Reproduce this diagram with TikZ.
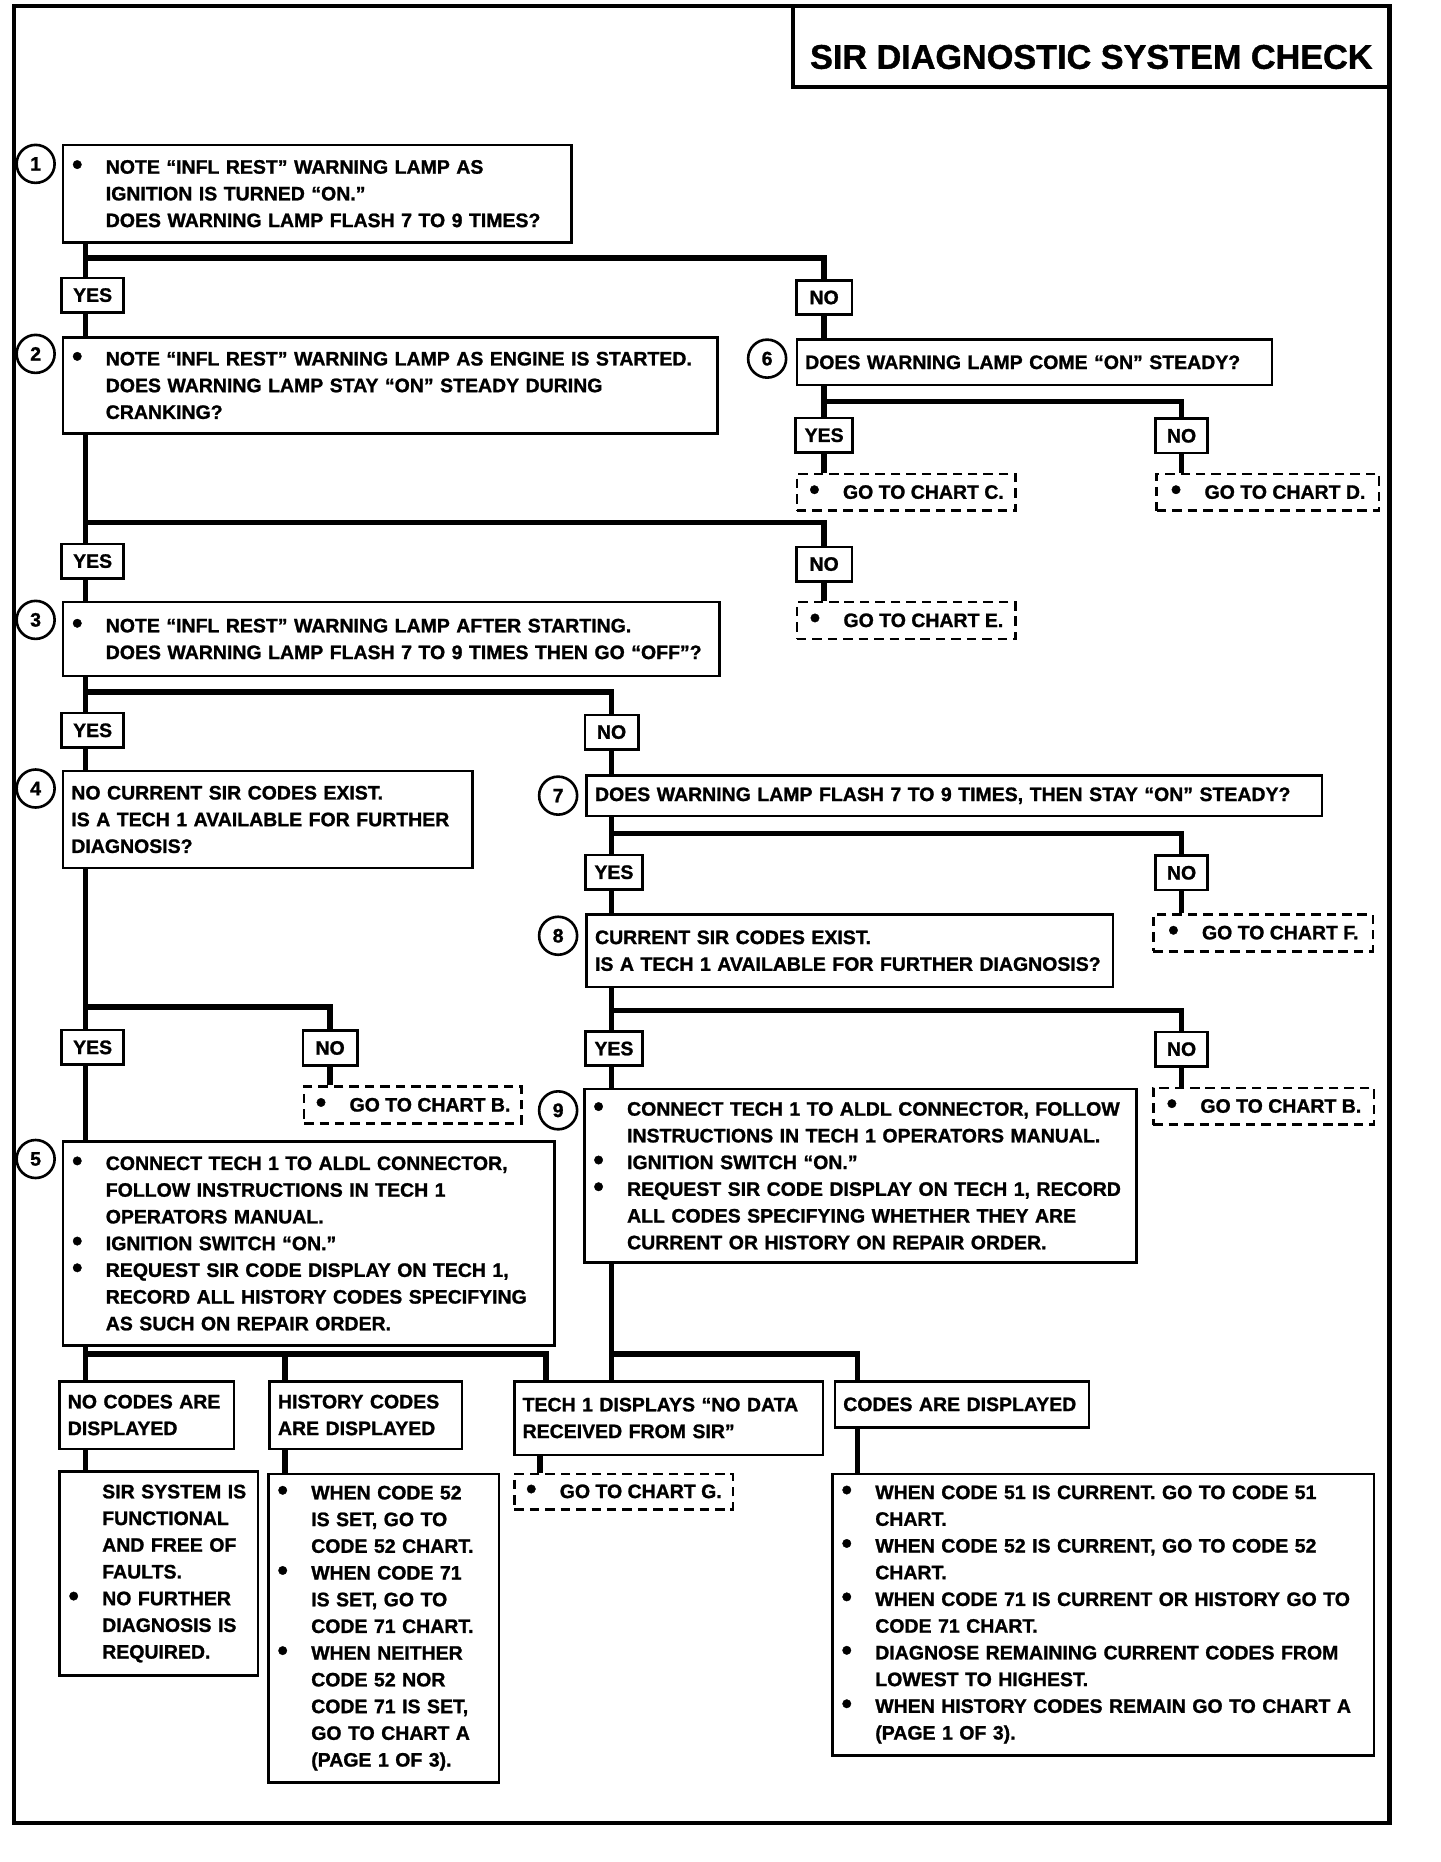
\documentclass[tikz,border=0pt]{standalone}
\usepackage{fontspec}
\setmainfont{Liberation Sans}[BoldFeatures={FakeBold=1.2}]
\usetikzlibrary{backgrounds}

\newcommand{\chartfont}{\fontsize{8.2}{11.25}\selectfont\bfseries}
\newcommand{\bul}{\makebox[14.5pt][l]{\hspace{0.3pt}\raisebox{-0.3pt}{\fontsize{12.5}{10}\selectfont\textbullet}}}
\newcommand{\ind}{\hspace*{14.5pt}}

\begin{document}
\begin{tikzpicture}[x=0.5pt,y=-0.5pt,font=\chartfont,
  stepbox/.style={draw,line width=1.1pt,fill=white,anchor=north west,align=left,inner xsep=3.5pt,inner ysep=1pt},
  ansbox/.style={draw,line width=1.1pt,fill=white,inner sep=0pt,minimum height=14.5pt},
  gotobox/.style={draw,dash pattern=on 4pt off 2.5pt,line width=1.1pt,fill=white,anchor=north west,inner sep=0pt,minimum height=15.5pt,minimum width=92pt},
  numcirc/.style={draw,circle,line width=1.1pt,fill=white,minimum size=16pt,inner sep=0pt},
  link/.style={line width=2.4pt}]
\useasboundingbox (0,0) rectangle (1213,1568);

% frame and title
\draw[line width=1.8pt] (12,5) rectangle (1170,1535);
\draw[line width=1.8pt] (668,5) -- (668,73) -- (1170,73);
\node[font=\fontsize{14.4}{16}\selectfont\bfseries] (title) at (919,48) {SIR DIAGNOSTIC SYSTEM CHECK};

% numbered steps
\node[numcirc] (c1) at (30,138) {1};
\node[numcirc] (c2) at (30,298) {2};
\node[numcirc] (c3) at (30,522) {3};
\node[numcirc] (c4) at (30,664) {4};
\node[numcirc] (c5) at (30,976) {5};
\node[numcirc] (c6) at (646,302) {6};
\node[numcirc] (c7) at (470,670) {7};
\node[numcirc] (c8) at (470,788) {8};
\node[numcirc] (c9) at (470,935) {9};

\node[stepbox,text width=207pt,minimum height=41pt] (b1) at (52,121)
  {\bul NOTE ``INFL REST'' WARNING LAMP AS\\ \ind IGNITION IS TURNED ``ON.''\\ \ind DOES WARNING LAMP FLASH 7 TO 9 TIMES?};
\node[stepbox,text width=268.5pt,minimum height=40.5pt] (b2) at (52,283)
  {\bul NOTE ``INFL REST'' WARNING LAMP AS ENGINE IS STARTED.\\ \ind DOES WARNING LAMP STAY ``ON'' STEADY DURING\\ \ind CRANKING?};
\node[stepbox,text width=269.5pt,minimum height=31pt] (b3) at (52,506)
  {\bul NOTE ``INFL REST'' WARNING LAMP AFTER STARTING.\\ \ind DOES WARNING LAMP FLASH 7 TO 9 TIMES THEN GO ``OFF''?};
\node[stepbox,text width=165.5pt,minimum height=41pt] (b4) at (52,648)
  {NO CURRENT SIR CODES EXIST.\\ IS A TECH 1 AVAILABLE FOR FURTHER\\ DIAGNOSIS?};
\node[stepbox,text width=200pt,minimum height=86pt] (b5) at (52,960)
  {\bul CONNECT TECH 1 TO ALDL CONNECTOR,\\ \ind FOLLOW INSTRUCTIONS IN TECH 1\\ \ind OPERATORS MANUAL.\\ \bul IGNITION SWITCH ``ON.''\\ \bul REQUEST SIR CODE DISPLAY ON TECH 1,\\ \ind RECORD ALL HISTORY CODES SPECIFYING\\ \ind AS SUCH ON REPAIR ORDER.};
\node[stepbox,text width=193pt,minimum height=19pt] (b6) at (670,285)
  {DOES WARNING LAMP COME ``ON'' STEADY?};
\node[stepbox,text width=302.5pt,minimum height=17pt] (b7) at (493,652)
  {DOES WARNING LAMP FLASH 7 TO 9 TIMES, THEN STAY ``ON'' STEADY?};
\node[stepbox,text width=214.5pt,minimum height=30.5pt] (b8) at (493,769)
  {CURRENT SIR CODES EXIST.\\ IS A TECH 1 AVAILABLE FOR FURTHER DIAGNOSIS?};
\node[stepbox,text width=225.5pt,minimum height=73pt] (b9) at (491,916)
  {\bul CONNECT TECH 1 TO ALDL CONNECTOR, FOLLOW\\ \ind INSTRUCTIONS IN TECH 1 OPERATORS MANUAL.\\ \bul IGNITION SWITCH ``ON.''\\ \bul REQUEST SIR CODE DISPLAY ON TECH 1, RECORD\\ \ind ALL CODES SPECIFYING WHETHER THEY ARE\\ \ind CURRENT OR HISTORY ON REPAIR ORDER.};

% yes / no labels
\node[ansbox,minimum width=26pt] (y1) at (78,248.5) {YES};
\node[ansbox,minimum width=23.5pt] (n1) at (694,250.5) {NO};
\node[ansbox,minimum width=24pt] (y6) at (694,366.5) {YES};
\node[ansbox,minimum width=22pt] (n6) at (995,367) {NO};
\node[ansbox,minimum width=26pt] (y2) at (78,472.5) {YES};
\node[ansbox,minimum width=23.5pt] (n2) at (694,475) {NO};
\node[ansbox,minimum width=26pt] (y3) at (78,615) {YES};
\node[ansbox,minimum width=22.5pt] (n3) at (515,616.5) {NO};
\node[ansbox,minimum width=24pt] (y7) at (517,734.5) {YES};
\node[ansbox,minimum width=22pt] (n7) at (995,735) {NO};
\node[ansbox,minimum width=24pt] (y8) at (517,883) {YES};
\node[ansbox,minimum width=22pt] (n8) at (995,883.5) {NO};
\node[ansbox,minimum width=26pt] (y4) at (78,882) {YES};
\node[ansbox,minimum width=23pt] (n4) at (278,882.5) {NO};

% go-to boxes
\node[gotobox] (gc) at (670,398) {\bul GO TO CHART C.};
\node[gotobox,minimum width=93.5pt] (gd) at (973,398) {\bul GO TO CHART D.};
\node[gotobox] (ge) at (670,506) {\bul GO TO CHART E.};
\node[gotobox,minimum width=92.5pt] (gf) at (970,769) {\bul GO TO CHART F.};
\node[gotobox,minimum width=93pt] (gb2) at (970,915) {\bul GO TO CHART B.};
\node[gotobox,minimum width=91.5pt] (gb1) at (255,914) {\bul GO TO CHART B.};
\node[gotobox,minimum height=15pt] (gg) at (432,1240) {\bul GO TO CHART G.};

% results
\node[stepbox,text width=66.5pt,minimum height=28.5pt] (nc) at (49,1162) {NO CODES ARE\\ DISPLAYED};
\node[stepbox,text width=76.5pt,minimum height=86pt] (ncr) at (49,1238)
  {\ind SIR SYSTEM IS\\ \ind FUNCTIONAL\\ \ind AND FREE OF\\ \ind FAULTS.\\ \bul NO FURTHER\\ \ind DIAGNOSIS IS\\ \ind REQUIRED.};
\node[stepbox,text width=74pt,minimum height=28.5pt] (hc) at (226,1162) {HISTORY CODES\\ ARE DISPLAYED};
\node[stepbox,text width=90pt,minimum height=130pt] (hcr) at (225,1240)
  {\bul WHEN CODE 52\\ \ind IS SET, GO TO\\ \ind CODE 52 CHART.\\ \bul WHEN CODE 71\\ \ind IS SET, GO TO\\ \ind CODE 71 CHART.\\ \bul WHEN NEITHER\\ \ind CODE 52 NOR\\ \ind CODE 71 IS SET,\\ \ind GO TO CHART A\\ \ind (PAGE 1 OF 3).};
\node[stepbox,text width=123pt,minimum height=31pt] (t1) at (432,1162) {TECH 1 DISPLAYS ``NO DATA\\ RECEIVED FROM SIR''};
\node[stepbox,text width=100pt,minimum height=19.5pt] (cd) at (702,1162) {CODES ARE DISPLAYED};
\node[stepbox,text width=221pt,minimum height=118.5pt] (cdr) at (700,1240)
  {\bul WHEN CODE 51 IS CURRENT. GO TO CODE 51\\ \ind CHART.\\ \bul WHEN CODE 52 IS CURRENT, GO TO CODE 52\\ \ind CHART.\\ \bul WHEN CODE 71 IS CURRENT OR HISTORY GO TO\\ \ind CODE 71 CHART.\\ \bul DIAGNOSE REMAINING CURRENT CODES FROM\\ \ind LOWEST TO HIGHEST.\\ \bul WHEN HISTORY CODES REMAIN GO TO CHART A\\ \ind (PAGE 1 OF 3).};

% branch points
\coordinate (j1) at (72,217);
\coordinate (j2) at (694,338);
\coordinate (j3) at (72,440);
\coordinate (j4) at (72,583);
\coordinate (j5) at (515,702);
\coordinate (j6) at (515,851);
\coordinate (j7) at (72,848);
\coordinate (j8) at (72,1140);
\coordinate (j9) at (240,1140);
\coordinate (j10) at (515,1140);
\coordinate (j11) at (460,1140);
\coordinate (j12) at (722,1140);
\coordinate (j13) at (455,1232);

\begin{scope}[on background layer]
\draw[link] (b1.south -| j1) -- (b2.north -| j1);
\draw[link] (b2.south -| j1) -- (b3.north -| j1);
\draw[link] (b3.south -| j1) -- (b4.north -| j1);
\draw[link] (b4.south -| j1) -- (b5.north -| j1);
\draw[link] (b5.south -| j1) -- (nc.north -| j1);
\draw[link] (nc.south -| j1) -- (ncr.north -| j1);
\draw[link] (j1) -| (b6.north -| n1);
\draw[link] (b6.south -| j2) -- (gc.north -| j2);
\draw[link] (j2) -| (gd.north -| n6);
\draw[link] (j3) -| (ge.north -| n2);
\draw[link] (j4) -| (b7.north -| n3);
\draw[link] (b7.south -| j5) -- (b8.north -| j5);
\draw[link] (j5) -| (gf.north -| n7);
\draw[link] (b8.south -| j6) -- (b9.north -| j6);
\draw[link] (j6) -| (gb2.north -| n8);
\draw[link] (j7) -| (gb1.north -| n4);
\draw[link] (j8) -| (t1.north -| j11);
\draw[link] (j9) -- (hc.north -| j9);
\draw[link] (hc.south -| j9) -- (hcr.north -| j9);
\draw[link] (b9.south -| j10) -- (t1.north -| j10);
\draw[link] (j10) -| (cd.north -| j12);
\draw[link] (cd.south -| j12) -- (cdr.north -| j12);
\draw[link] (t1.south -| j13) -- (gg.north -| j13);
\end{scope}
\end{tikzpicture}
\end{document}
